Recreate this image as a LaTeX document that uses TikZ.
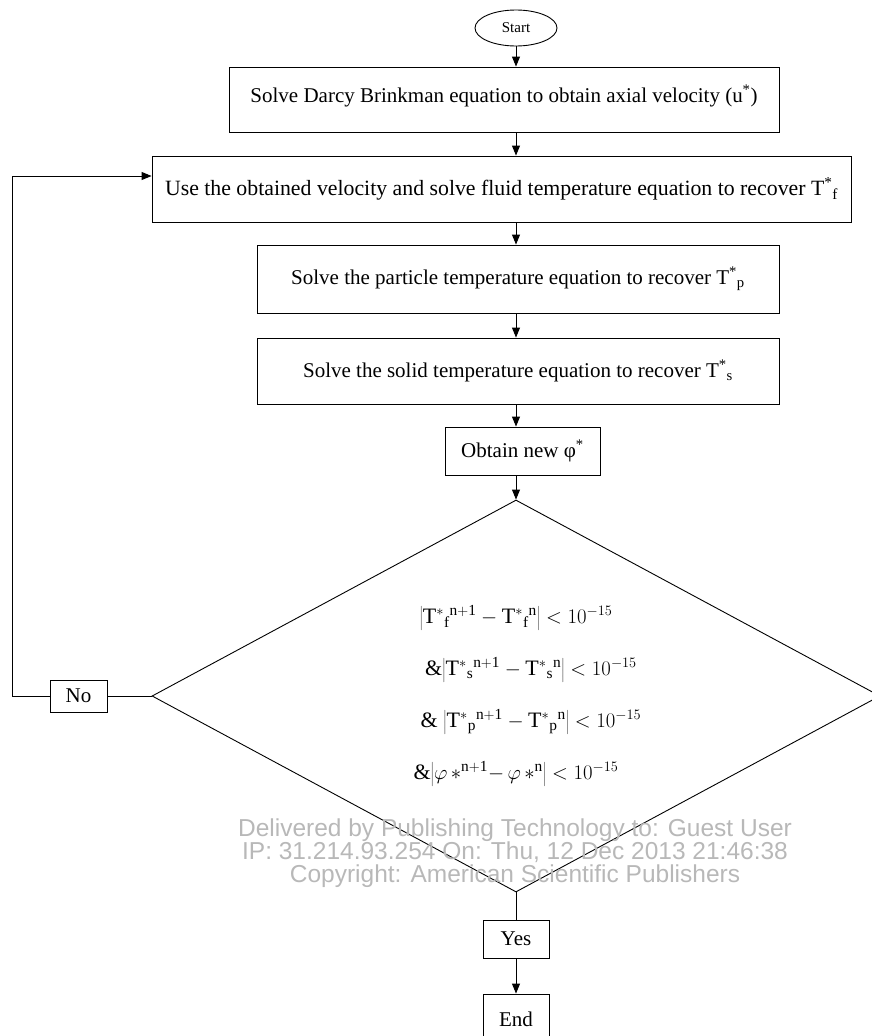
\documentclass[tikz,border=0pt]{standalone}
\usepackage{fontspec}
\setmainfont{Liberation Serif}
\newfontfamily\wmfont{Liberation Sans}
\usetikzlibrary{shapes.geometric,arrows.meta}
\newcommand{\Tst}[1]{\mathrm{T}^{*}{}_{\mathrm{#1}}}
\begin{document}
\begin{tikzpicture}[x=1pt, y=-1pt, line width=0.9pt,
    font=\fontsize{21}{25}\selectfont,
    box/.style={draw, rectangle, inner sep=0pt, align=center},
    flow/.style={-{Triangle[length=10pt, width=8pt]}}]
    \useasboundingbox (0, 0) rectangle (871, 1036);
    \node[draw, ellipse, minimum width=82pt, minimum height=36pt, inner sep=0pt, font=\fontsize{15}{17}\selectfont] (start) at (516, 28) {Start};
    \node[box, minimum width=550pt, text height=35pt, text depth=30pt] (darcy) at (504, 99.5) {Solve Darcy Brinkman equation to obtain axial velocity (u\textsuperscript{*})};
    \node[box, minimum width=699pt, minimum height=66pt, font=\fontsize{21.8}{25}\selectfont] (use) at (501.5, 189) {Use the obtained velocity and solve fluid temperature equation to recover T\textsuperscript{*}\textsubscript{f}};
    \node[box, minimum width=522pt, minimum height=68pt] (particle) at (518, 279) {Solve the particle temperature equation to recover T\textsuperscript{*}\textsubscript{p}};
    \node[box, minimum width=522pt, minimum height=66pt] (solid) at (518, 371) {Solve the solid temperature equation to recover T\textsuperscript{*}\textsubscript{s}};
    \node[box, minimum width=155pt, minimum height=48pt] (phi) at (522.5, 451) {Obtain new φ\textsuperscript{*}};
    \node[draw, diamond, aspect=1.86, inner sep=0pt, minimum width=728pt, minimum height=392pt, align=center, font=\fontsize{22}{52}\selectfont] (check) at (516, 696)
        {$\left|\Tst{f}{}^{\mathrm{n+1}} - \Tst{f}{}^{\mathrm{n}}\right| < 10^{-15}$\\
         \hspace*{30pt}\&$\left|\Tst{s}{}^{\mathrm{n+1}} - \Tst{s}{}^{\mathrm{n}}\right| < 10^{-15}$\\
         \hspace*{30pt}\& $\left|\Tst{p}{}^{\mathrm{n+1}} - \Tst{p}{}^{\mathrm{n}}\right| < 10^{-15}$\\
         \&$\left|\varphi\,{*}^{\mathrm{n+1}} {-}\, \varphi\,{*}^{\mathrm{n}}\right| < 10^{-15}$};
    \node[box, minimum width=57pt, minimum height=32pt] (no) at (78.5, 696) {No};
    \node[box, minimum width=66pt, minimum height=38pt] (yes) at (516, 939) {Yes};
    \node[box, minimum width=66pt, minimum height=50pt] (end) at (516, 1019) {End};
    \node[text=black!28, align=center, font=\wmfont\fontsize{24.5}{23}\selectfont] (mark) at (515, 853)
        {Delivered by Publishing Technology to: Guest User\\
         IP: 31.214.93.254 On: Thu, 12 Dec 2013 21:46:38\\
         Copyright: American Scientific Publishers};
    \draw[flow] (start) -- (start |- darcy.north);
    \draw[flow] (start |- darcy.south) -- (start |- use.north);
    \draw[flow] (start |- use.south) -- (start |- particle.north);
    \draw[flow] (start |- particle.south) -- (start |- solid.north);
    \draw[flow] (start |- solid.south) -- (start |- phi.north);
    \draw[flow] (phi.south -| check) -- (check);
    \draw (check) -- (no);
    \draw[flow] (no.west) -- ++(-37, 0) |- ([yshift=13pt]use.west);
    \draw (check) -- (yes);
    \draw[flow] (yes) -- (end);
\end{tikzpicture}
\end{document}
